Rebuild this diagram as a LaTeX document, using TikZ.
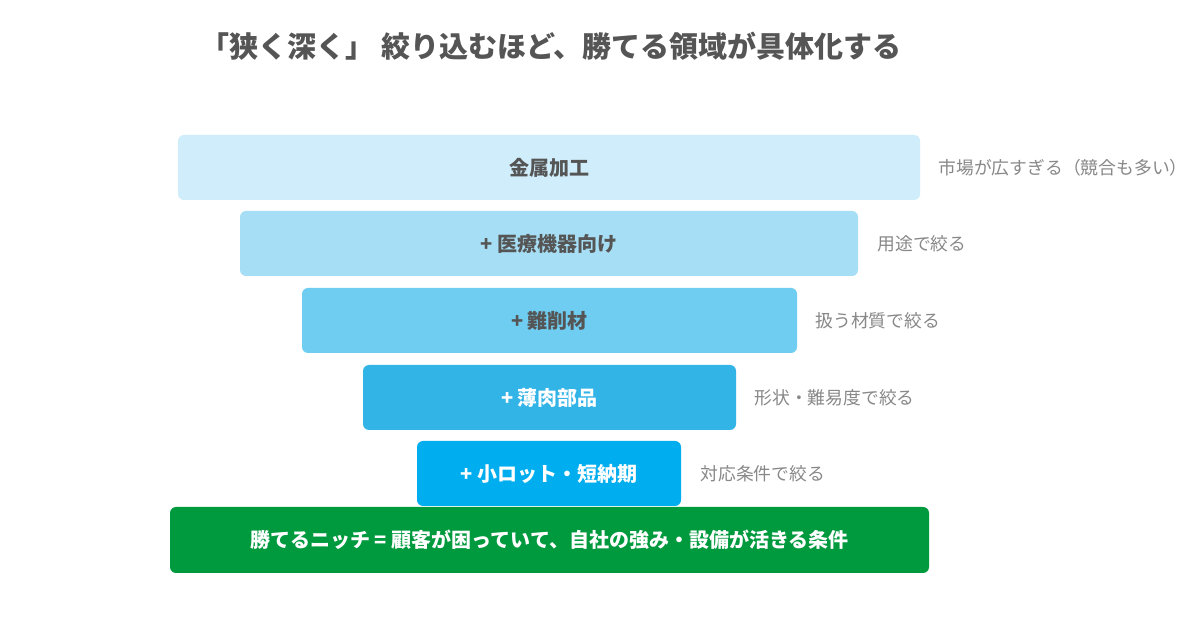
\documentclass[tikz,border=0pt]{standalone}
\usepackage{fontspec}
\setmainfont{Noto Sans CJK JP}
\usepackage{tikz}
\usetikzlibrary{positioning}

\definecolor{lvA}{HTML}{CFEDFA}
\definecolor{lvB}{HTML}{A6DFF5}
\definecolor{lvC}{HTML}{6ECDF0}
\definecolor{lvD}{HTML}{33B4E7}
\definecolor{lvE}{HTML}{00ADEE}
\definecolor{niche}{HTML}{009A3E}
\definecolor{darktext}{HTML}{555555}
\definecolor{notetext}{HTML}{888888}

\tikzset{
  level/.style={rounded corners=3pt, inner sep=0pt, outer sep=0pt,
    minimum height=32.5pt, font=\fontsize{10}{12}\selectfont\bfseries},
  note/.style={inner sep=0pt, text=notetext, font=\fontsize{8.9}{10}\selectfont}
}

\begin{document}
\begin{tikzpicture}[x=0.5pt, y=-0.5pt]

  \useasboundingbox[fill=white] (0,0) rectangle (1200,630);

  \node[text=darktext, font=\fontsize{14.5}{16}\selectfont\bfseries] (title) at (551,46) {「狭く深く」 絞り込むほど、勝てる領域が具体化する};

  \node[level, fill=lvA, text=darktext, minimum width=371pt] (metal) at (549,167.5) {金属加工};
  \node[level, fill=lvB, text=darktext, minimum width=309pt] (medical) at (549,243.5) {+~医療機器向け};
  \node[level, fill=lvC, text=darktext, minimum width=247.5pt] (hard) at (549.5,320.5) {+~難削材};
  \node[level, fill=lvD, text=white, minimum width=186.5pt] (thin) at (549.5,397.5) {+~薄肉部品};
  \node[level, fill=lvE, text=white, minimum width=132pt] (small) at (549,473.5) {+~小ロット・短納期};

  \node[level, fill=niche, text=white, minimum width=379.5pt, minimum height=33pt] (win) at (549.5,540) {勝てるニッチ = 顧客が困っていて、自社の強み・設備が活きる条件};

  \node[note, right=9pt of metal] (metalnote) {市場が広すぎる（競合も多い）};
  \node[note, right=9.5pt of medical] (medicalnote) {用途で絞る};
  \node[note, right=9pt of hard] (hardnote) {扱う材質で絞る};
  \node[note, right=9pt of thin] (thinnote) {形状・難易度で絞る};
  \node[note, right=9.5pt of small] (smallnote) {対応条件で絞る};

\end{tikzpicture}
\end{document}
